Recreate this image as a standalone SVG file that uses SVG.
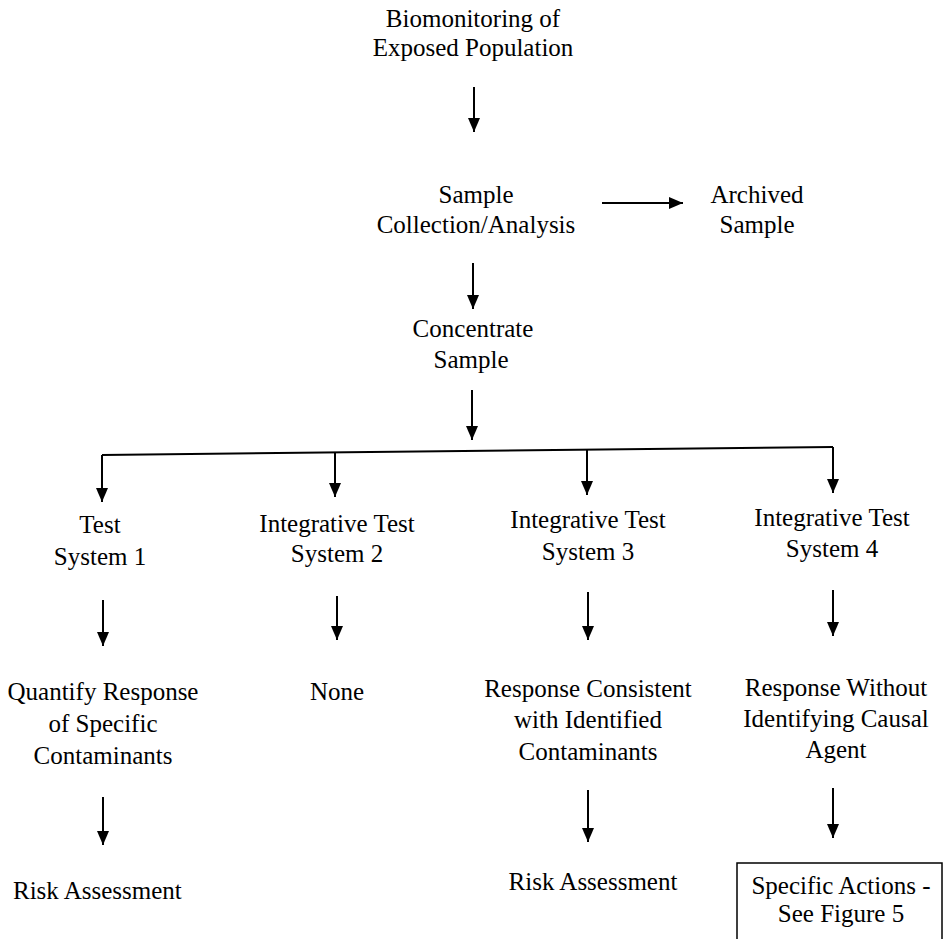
<svg xmlns="http://www.w3.org/2000/svg" width="950" height="939" viewBox="0 0 950 939">
<defs>
<marker id="ah" viewBox="0 0 14 12" refX="14" refY="6" markerWidth="14" markerHeight="12" markerUnits="userSpaceOnUse" orient="auto">
<path d="M0,0 L14,6 L0,12 Z" fill="#000"/>
</marker>
<style>
text{font-family:"Liberation Serif","Times New Roman",serif;font-size:25px;fill:#000;text-anchor:middle}
.c{stroke:#000;stroke-width:2;fill:none}
.a{marker-end:url(#ah)}
</style>
</defs>
<rect width="950" height="939" fill="#fff"/>
<g id="connectors">
<line class="c a" x1="474" y1="87" x2="474" y2="132"/>
<line class="c a" x1="602" y1="203" x2="683" y2="203"/>
<line class="c a" x1="473" y1="263" x2="473" y2="309"/>
<line class="c a" x1="472" y1="390" x2="472" y2="440"/>
<polyline class="c" points="102,455 833,447"/>
<line class="c a" x1="102" y1="455" x2="102" y2="502"/>
<line class="c a" x1="335" y1="453" x2="335" y2="497"/>
<line class="c a" x1="587" y1="450" x2="587" y2="495"/>
<line class="c a" x1="833" y1="447" x2="833" y2="493"/>
<line class="c a" x1="103" y1="600" x2="103" y2="646"/>
<line class="c a" x1="337" y1="596" x2="337" y2="640"/>
<line class="c a" x1="588" y1="592" x2="588" y2="640"/>
<line class="c a" x1="833" y1="590" x2="833" y2="636"/>
<line class="c a" x1="103" y1="797" x2="103" y2="845"/>
<line class="c a" x1="588" y1="790" x2="588" y2="842"/>
<line class="c a" x1="833" y1="788" x2="833" y2="838"/>
</g>
<g id="biomonitoring"><text x="473" y="27">Biomonitoring of</text><text x="473" y="56">Exposed Population</text></g>
<g id="sample-collection"><text x="476" y="203">Sample</text><text x="476" y="233">Collection/Analysis</text></g>
<g id="archived"><text x="757" y="203">Archived</text><text x="757" y="233">Sample</text></g>
<g id="concentrate"><text x="473" y="337">Concentrate</text><text x="471" y="368">Sample</text></g>
<g id="ts1"><text x="100" y="533">Test</text><text x="100" y="565">System 1</text></g>
<g id="ts2"><text x="337" y="532">Integrative Test</text><text x="337" y="562">System 2</text></g>
<g id="ts3"><text x="588" y="528">Integrative Test</text><text x="588" y="560">System 3</text></g>
<g id="ts4"><text x="832" y="526">Integrative Test</text><text x="832" y="557">System 4</text></g>
<g id="quantify"><text x="103" y="700">Quantify Response</text><text x="103" y="732">of Specific</text><text x="103" y="764">Contaminants</text></g>
<g id="none"><text x="337" y="700">None</text></g>
<g id="consistent"><text x="588" y="697">Response Consistent</text><text x="588" y="728">with Identified</text><text x="588" y="760">Contaminants</text></g>
<g id="without"><text x="836" y="696">Response Without</text><text x="836" y="727">Identifying Causal</text><text x="836" y="758">Agent</text></g>
<g id="risk1"><text x="13" y="899" style="text-anchor:start">Risk Assessment</text></g>
<g id="risk3"><text x="593" y="890">Risk Assessment</text></g>
<g id="actions"><rect x="737" y="863" width="205" height="90" class="c" style="stroke-width:1.5"/><text x="841" y="894">Specific Actions -</text><text x="841" y="922">See Figure 5</text></g>
</svg>
